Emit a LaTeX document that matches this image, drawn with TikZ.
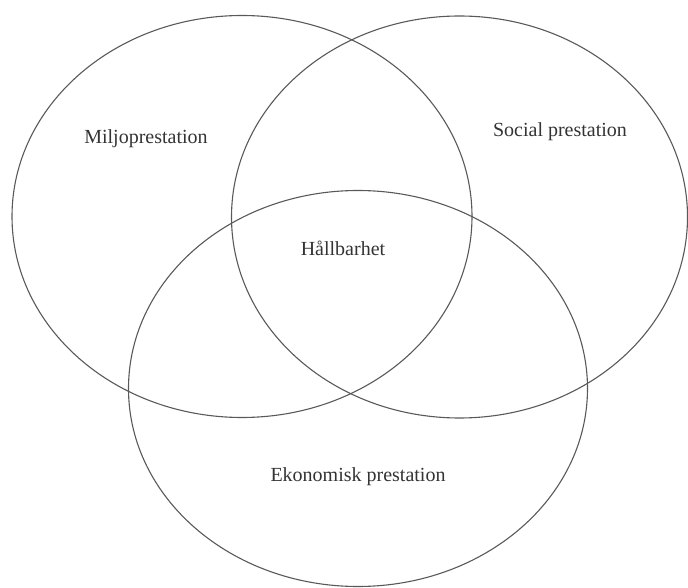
\documentclass[tikz,border=0pt]{standalone}
\usepackage{fontspec}
\setmainfont{Liberation Serif}
\begin{document}
\begin{tikzpicture}[x=1pt,y=1pt,
  ring/.style={draw=black!65,line width=1.1pt},
  lbl/.style={font=\fontsize{20}{24}\selectfont,text=black!80,inner sep=0pt}]
\useasboundingbox (0,0) rectangle (688,587);
\draw[ring] (242,370.5) ellipse [x radius=230,y radius=201];
\draw[ring] (459.5,370) ellipse [x radius=228,y radius=201];
\draw[ring] (358,198.5) ellipse [x radius=229.5,y radius=198];
\node[lbl] (m) at (146,448.5) {Miljoprestation};
\node[lbl] (s) at (560,455) {Social prestation};
\node[lbl] (h) at (343,339) {Hållbarhet};
\node[lbl] (e) at (358,110) {Ekonomisk prestation};
\end{tikzpicture}
\end{document}
